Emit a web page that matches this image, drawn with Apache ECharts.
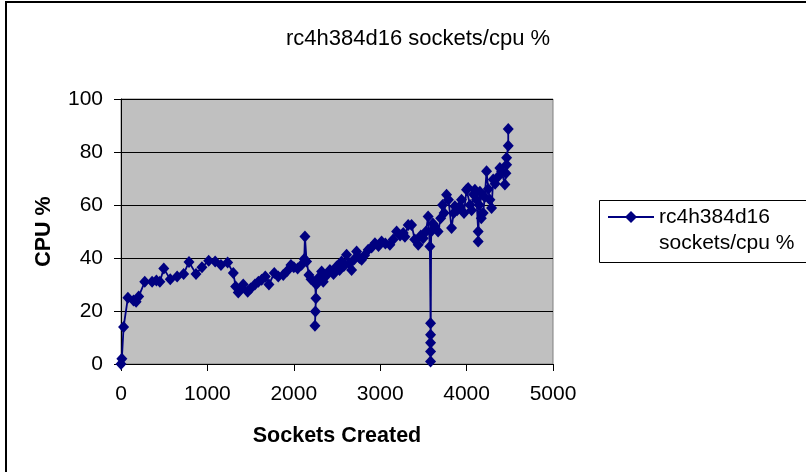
<!DOCTYPE html>
<html>
<head>
<meta charset="utf-8">
<script src="https://cdn.jsdelivr.net/npm/echarts@6/dist/echarts.min.js"></script>
<style>
html,body{margin:0;padding:0;background:#fff;}
#c{width:806px;height:472px;}
</style>
</head>
<body>
<div id="c"></div>
<script>
var chartTitle = 'rc4h384d16 sockets/cpu %';
var seriesName = 'rc4h384d16\nsockets/cpu %';
var xAxisName = 'Sockets Created';
var yAxisName = 'CPU %';

var socketsCreated = [
  0, 10, 30, 80, 145, 175, 205, 275, 360, 410, 450, 495, 570, 650, 725, 787, 868, 937, 1015, 1090,
  1157, 1234, 1300, 1327, 1357, 1390, 1415, 1466, 1500, 1550, 1590, 1628, 1670, 1712, 1774, 1820, 1878, 1920, 1967, 2000,
  2044, 2090, 2121, 2129, 2148, 2175, 2200, 2245, 2256, 2250, 2245, 2260, 2300, 2322, 2341, 2380, 2418, 2460, 2495, 2530,
  2553, 2580, 2611, 2640, 2669, 2700, 2727, 2760, 2785, 2820, 2861, 2900, 2939, 2980, 3016, 3060, 3112, 3150, 3190, 3230,
  3267, 3286, 3324, 3363, 3400, 3440, 3470, 3498, 3530, 3555, 3575, 3583, 3583, 3583, 3583, 3583, 3590, 3610, 3633, 3670,
  3700, 3722, 3740, 3768, 3790, 3826, 3850, 3864, 3890, 3922, 3941, 3970, 3999, 4018, 4040, 4058, 4080, 4096, 4115, 4134,
  4134, 4145, 4154, 4170, 4192, 4210, 4231, 4250, 4270, 4289, 4308, 4330, 4366, 4385, 4405, 4443, 4455, 4463, 4463, 4482,
  4482
];
var cpuPercent = [
  0, 2, 14, 25, 24, 23.5, 25.5, 31, 31, 31.5, 31, 36, 32, 33, 34, 38.5, 34, 36.5, 39, 38.7,
  37.4, 38.3, 34.3, 29.2, 27, 28.5, 30, 27.3, 28.5, 30, 31, 31.8, 33, 30, 34.3, 33, 33.6, 35, 37.4, 36.5,
  36, 37.5, 39.6, 48.1, 38.7, 33.6, 32, 31, 24.8, 19.8, 14.4, 30, 33, 34.9, 31, 33.5, 35.5, 34, 36.8, 35.5,
  38.7, 37, 41.2, 38, 35.5, 39.5, 42.5, 40, 39.3, 41, 43.1, 44, 45.6, 44.5, 46.2, 45.5, 45, 47, 50, 48.5,
  49.4, 48, 52.5, 52.5, 47, 45, 48.5, 47.5, 50, 55.7, 44.3, 15.4, 11, 8, 4.7, 0.9, 50, 53, 51.9, 50,
  55, 60, 57, 63.9, 62, 51.3, 57, 59.5, 58, 59.5, 62, 57, 65.8, 66.4, 60, 58, 64, 65.8, 62, 50,
  46.2, 60, 65, 55, 57, 63, 72.7, 66, 62, 58.9, 69.6, 68, 70.8, 74, 72.7, 67.7, 72, 75.2, 77.8, 82.4,
  88.7
];

var points = socketsCreated.map(function (x, i) { return [x, cpuPercent[i]]; });

var FONT = 'Liberation Sans';
var chart = echarts.init(document.getElementById('c'), null, {renderer: 'canvas'});
chart.setOption({
  animation: false,
  backgroundColor: '#ffffff',
  title: {
    text: chartTitle,
    left: 413,
    top: 23,
    textAlign: 'center',
    textStyle: {fontFamily: FONT, fontSize: 22, fontWeight: 'normal', color: '#000'}
  },
  graphic: [
    {type: 'rect', shape: {x: 6, y: 2, width: 1000, height: 1000}, style: {fill: 'none', stroke: '#000', lineWidth: 2}, silent: true, z: 0},
    {type: 'rect', shape: {x: 599.5, y: 200.5, width: 400, height: 62}, style: {fill: '#fff', stroke: '#000', lineWidth: 1}, silent: true, z: 0}
  ],
  grid: {
    left: 121, top: 99, right: 253, bottom: 108,
    show: true, backgroundColor: '#C0C0C0', borderColor: '#808080', borderWidth: 1
  },
  legend: {
    show: true,
    left: 607, top: 178,
    padding: 0,
    itemWidth: 46, itemHeight: 15,
    itemGap: 0,
    formatter: function (name) { return '\n' + name; },
    textStyle: {fontFamily: FONT, fontSize: 21, color: '#000', lineHeight: 26},
    data: [seriesName]
  },
  xAxis: {
    type: 'value', min: 0, max: 5000, interval: 1000,
    name: xAxisName, nameLocation: 'middle', nameGap: 61,
    nameTextStyle: {fontFamily: FONT, fontSize: 21.5, fontWeight: 'bold', color: '#000'},
    axisLine: {show: true, lineStyle: {color: '#000', width: 1}},
    axisTick: {show: true, inside: false, length: 7, lineStyle: {color: '#000'}},
    axisLabel: {fontFamily: FONT, fontSize: 21, color: '#000', margin: 20, formatter: function (v) { return String(v); }},
    splitLine: {show: false}
  },
  yAxis: {
    type: 'value', min: 0, max: 100, interval: 20,
    name: yAxisName, nameLocation: 'middle', nameGap: 66,
    nameTextStyle: {fontFamily: FONT, fontSize: 21.5, fontWeight: 'bold', color: '#000'},
    axisLine: {show: true, lineStyle: {color: '#000', width: 1}},
    axisTick: {show: true, inside: false, length: 7, lineStyle: {color: '#000'}},
    axisLabel: {fontFamily: FONT, fontSize: 21, color: '#000', margin: 18},
    splitLine: {show: true, lineStyle: {color: '#000', width: 1}}
  },
  series: [{
    name: seriesName,
    type: 'line',
    data: points,
    symbol: 'diamond',
    symbolSize: [11, 12],
    showAllSymbol: true,
    itemStyle: {color: '#000080', borderWidth: 0},
    lineStyle: {color: '#000080', width: 1.8},
    z: 3
  }]
});
</script>
</body>
</html>
